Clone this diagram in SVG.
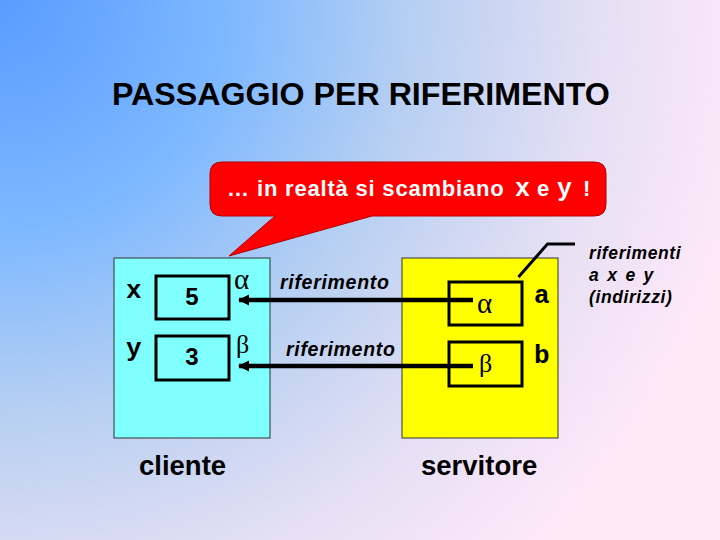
<svg xmlns="http://www.w3.org/2000/svg" width="720" height="540" viewBox="0 0 720 540">
  <defs>
    <radialGradient id="bg" gradientUnits="userSpaceOnUse" cx="0" cy="0" r="760">
      <stop offset="0" stop-color="#5A9BFF"/>
      <stop offset="0.3" stop-color="#7DB8FF"/>
      <stop offset="0.55" stop-color="#B8D0F2"/>
      <stop offset="0.8" stop-color="#E6E0F4"/>
      <stop offset="1" stop-color="#FDE8F8"/>
    </radialGradient>
    <marker id="arrow" markerUnits="userSpaceOnUse" markerWidth="12" markerHeight="12" refX="10" refY="6" orient="auto">
      <path d="M0,0.5 L11,6 L0,11.5 Z" fill="#000"/>
    </marker>
    <style>
      .sans { font-family: "Liberation Sans", Arial, sans-serif; }
      .mono { font-family: "Liberation Mono", "Courier New", monospace; font-weight: bold; font-size: 26px; fill: #000; }
      .greek { font-family: "Liberation Serif", "DejaVu Serif", serif; fill: #000; }
      .box { stroke: #000; stroke-width: 3; fill: none; }
      .panel { stroke: #333; stroke-width: 1; }
      .ital { font-family: "Liberation Sans", Arial, sans-serif; font-style: italic; font-weight: bold; fill: #000; }
      .conn { stroke: #000; stroke-width: 4.5; fill: none; }
    </style>
  </defs>

  <rect x="0" y="0" width="720" height="540" fill="url(#bg)"/>

  <g id="title">
    <text class="sans" x="112" y="105" font-size="32.2" font-weight="bold" fill="#000">PASSAGGIO PER RIFERIMENTO</text>
  </g>

  <g id="cliente">
    <rect class="panel" x="114" y="258" width="156" height="180" fill="#80FFFF"/>
    <text class="sans" x="139" y="475" font-size="27.5" font-weight="bold" fill="#000">cliente</text>
  </g>

  <g id="servitore">
    <rect class="panel" x="402" y="258" width="156" height="180" fill="#FFFF00"/>
    <text class="sans" x="421" y="475" font-size="27.5" font-weight="bold" fill="#000">servitore</text>
  </g>

  <g id="var-x">
    <text class="mono" x="126" y="298">x</text>
    <rect class="box" x="156" y="276" width="73" height="43"/>
    <text class="sans" x="192" y="305" font-size="24" font-weight="bold" text-anchor="middle">5</text>
    <text class="greek" x="234" y="289" font-size="29">α</text>
  </g>

  <g id="var-y">
    <text class="mono" x="126" y="356">y</text>
    <rect class="box" x="156" y="336" width="73" height="44"/>
    <text class="sans" x="192" y="365" font-size="24" font-weight="bold" text-anchor="middle">3</text>
    <text class="greek" x="236" y="353" font-size="26">β</text>
  </g>

  <g id="par-a">
    <rect class="box" x="449" y="282" width="73" height="43"/>
    <text class="greek" x="477" y="313" font-size="29">α</text>
    <text class="mono" x="534" y="303">a</text>
  </g>

  <g id="par-b">
    <rect class="box" x="449" y="342" width="73" height="44"/>
    <text class="greek" x="479" y="372" font-size="26">β</text>
    <text class="mono" x="534" y="363">b</text>
  </g>

  <g id="connectors">
    <line class="conn" x1="473" y1="300" x2="239" y2="300" marker-end="url(#arrow)"/>
    <line class="conn" x1="473" y1="366" x2="239" y2="366" marker-end="url(#arrow)"/>
    <polyline points="518.5,277 547.5,244 575,244" fill="none" stroke="#000" stroke-width="3"/>
  </g>

  <g id="labels">
    <text class="ital" x="280" y="289" font-size="19.5" letter-spacing="0.7">riferimento</text>
    <text class="ital" x="286" y="356" font-size="19.5" letter-spacing="0.7">riferimento</text>
    <text class="ital" x="589" y="259" font-size="17.5" letter-spacing="0.6">riferimenti</text>
    <text class="ital" x="589" y="281" font-size="17.5" letter-spacing="1.8">a x e y</text>
    <text class="ital" x="589" y="303" font-size="17.5" letter-spacing="0.6">(indirizzi)</text>
  </g>

  <g id="callout">
    <path d="M222,162 H594 Q606,162 606,174 V204 Q606,216 594,216 H372 L229,256 L275,216 H222 Q210,216 210,204 V174 Q210,162 222,162 Z" fill="#FF0000" stroke="#B00000" stroke-width="1"/>
    <text class="sans" y="196" font-size="22" font-weight="bold" fill="#FFFFFF"><tspan x="227">…</tspan><tspan x="257" letter-spacing="0.8">in realtà si scambiano</tspan><tspan x="515" style="font-family:'Liberation Mono','Courier New',monospace" font-size="25">x</tspan><tspan x="537">e</tspan><tspan x="557" style="font-family:'Liberation Mono','Courier New',monospace" font-size="25">y</tspan><tspan x="583">!</tspan></text>
  </g>
</svg>
